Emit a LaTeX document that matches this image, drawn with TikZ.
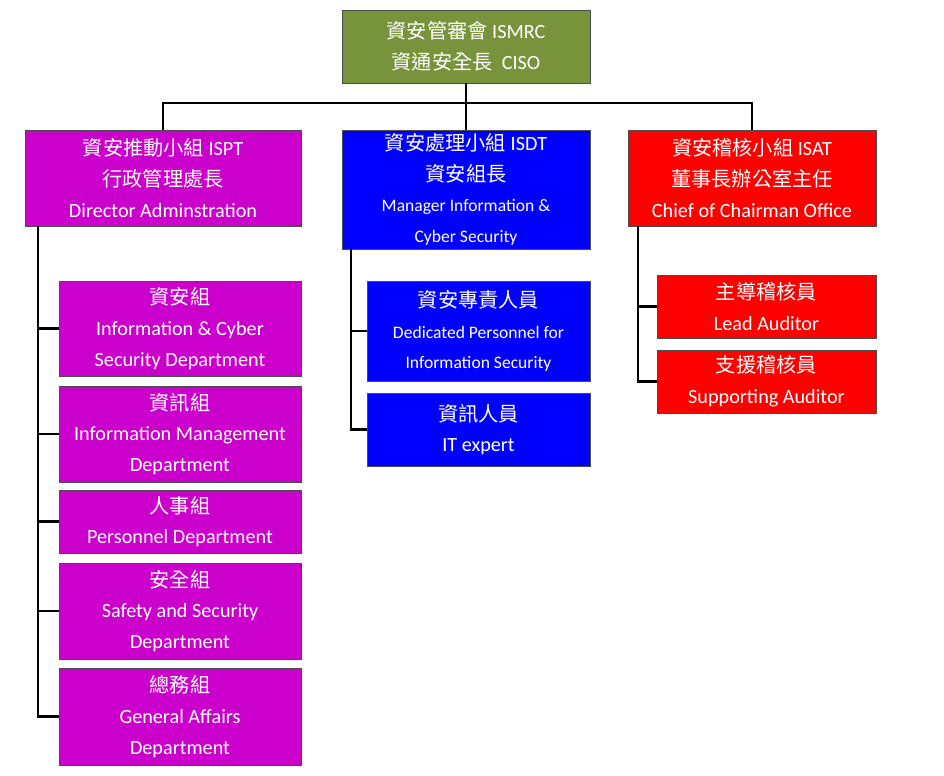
\documentclass[tikz,border=0pt]{standalone}
\usepackage{fontspec}
\setmainfont{Carlito}
\newfontfamily\cjkfont{Noto Sans CJK TC}
\newcommand{\zh}[1]{{\cjkfont #1}}
\definecolor{olivebox}{HTML}{77933C}
\definecolor{magbox}{HTML}{CC00CC}
\begin{document}
\begin{tikzpicture}[x=0.02cm,y=-0.02cm,
  box/.style={draw=black!70,line width=0.4pt,text=white,align=center,inner sep=1pt,
    font=\fontsize{11.5}{17.5}\selectfont},
  small/.style={font=\fontsize{10}{17.5}\selectfont},
  link/.style={line width=1.7pt}]
\useasboundingbox (0,0) rectangle (944,776);
% top
\node[box,fill=olivebox,minimum width=4.96cm,minimum height=1.46cm] (top) at (466,46.5)
  {\zh{資安管審會} ISMRC\\\zh{資通安全長}\ \ CISO};
% three teams
\node[box,fill=magbox,minimum width=5.52cm,minimum height=1.92cm] (ispt) at (163,178)
  {\zh{資安推動小組} ISPT\\\zh{行政管理處長}\\Director Adminstration};
\node[box,fill=blue,minimum width=4.96cm,minimum height=2.38cm] (isdt) at (466,189.5)
  {\zh{資安處理小組} ISDT\\\zh{資安組長}\\{\fontsize{10}{17.5}\selectfont Manager Information \&}\\{\fontsize{10}{17.5}\selectfont Cyber Security}};
\node[box,fill=red,minimum width=4.96cm,minimum height=1.92cm] (isat) at (752,178)
  {\zh{資安稽核小組} ISAT\\\zh{董事長辦公室主任}\\Chief of Chairman Office};
% left column
\node[box,fill=magbox,minimum width=4.84cm,minimum height=1.9cm] (l1) at (180,328.5)
  {\zh{資安組}\\Information \& Cyber\\Security Department};
\node[box,fill=magbox,minimum width=4.84cm,minimum height=1.92cm] (l2) at (180,434)
  {\zh{資訊組}\\Information Management\\Department};
\node[box,fill=magbox,minimum width=4.84cm,minimum height=1.26cm] (l3) at (180,521.5)
  {\zh{人事組}\\Personnel Department};
\node[box,fill=magbox,minimum width=4.84cm,minimum height=1.92cm] (l4) at (180,611)
  {\zh{安全組}\\Safety and Security\\Department};
\node[box,fill=magbox,minimum width=4.84cm,minimum height=1.94cm] (l5) at (180,716.5)
  {\zh{總務組}\\General Affairs\\Department};
% middle column
\node[box,small,fill=blue,minimum width=4.46cm,minimum height=2.0cm] (m1) at (478.5,331)
  {{\fontsize{11.5}{17.5}\selectfont\zh{資安專責人員}}\\Dedicated Personnel for\\Information Security};
\node[box,fill=blue,minimum width=4.46cm,minimum height=1.46cm] (m2) at (478.5,429.5)
  {\zh{資訊人員}\\IT expert};
% right column
\node[box,fill=red,minimum width=4.38cm,minimum height=1.26cm] (r1) at (766.5,306.5)
  {\zh{主導稽核員}\\Lead Auditor};
\node[box,fill=red,minimum width=4.38cm,minimum height=1.26cm] (r2) at (766.5,381.5)
  {\zh{支援稽核員}\\Supporting Auditor};
% connectors
\coordinate (bar) at (466,103);
\coordinate (lspine) at (38,226);
\coordinate (mspine) at (351,249);
\coordinate (rspine) at (638,226);
\draw[link] (top) -- (isdt);
\draw[link] (ispt.north) |- (bar) -| (isat.north);
\draw[link] (lspine) |- (l5.west);
\foreach \n in {l1,l2,l3,l4}
  \draw[link] (lspine |- \n.west) -- (\n.west);
\draw[link] (mspine) |- (m2.west);
\draw[link] (mspine |- m1.west) -- (m1.west);
\draw[link] (rspine) |- (r2.west);
\draw[link] (rspine |- r1.west) -- (r1.west);
\end{tikzpicture}
\end{document}
